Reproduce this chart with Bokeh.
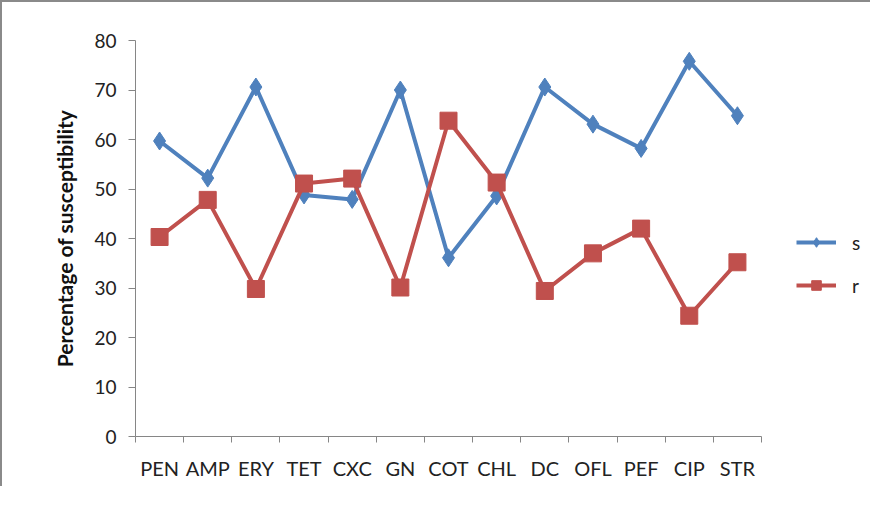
from bokeh.plotting import figure
from bokeh.models import FixedTicker, Range1d, Legend, LegendItem
from bokeh.embed import file_html
from bokeh.resources import INLINE

categories = ["PEN", "AMP", "ERY", "TET", "CXC", "GN", "COT", "CHL", "DC", "OFL", "PEF", "CIP", "STR"]
s_values = [59.7, 52.2, 70.6, 48.8, 47.9, 70.0, 36.1, 48.6, 70.6, 63.1, 58.2, 75.8, 64.8]
r_values = [40.3, 47.8, 29.8, 51.1, 52.1, 30.1, 63.8, 51.3, 29.4, 37.0, 42.0, 24.4, 35.2]
y_ticks = [0, 10, 20, 30, 40, 50, 60, 70, 80]

FONT = "Lato"
BLUE = "#4F81BD"
RED = "#C0504D"
GREY = "#868686"

xs = list(range(len(categories)))

p = figure(width=850, height=478, output_backend="svg", toolbar_location=None,
           x_range=Range1d(-0.5, len(categories) - 0.5), y_range=Range1d(0, 80),
           min_border_left=133, min_border_top=32, min_border_bottom=50,
           frame_width=626, frame_height=396)
p.styles = {"border-top": "2px solid #8a8a8a", "border-left": "2px solid #8a8a8a",
            "padding-top": "6px"}
p.outline_line_color = None
p.xgrid.visible = False
p.ygrid.visible = False

# y axis
p.yaxis.ticker = FixedTicker(ticks=y_ticks, minor_ticks=[])
p.yaxis.axis_line_color = GREY
p.yaxis.major_tick_line_color = GREY
p.yaxis.major_tick_out = 7
p.yaxis.major_tick_in = 0
p.yaxis.major_label_standoff = 12
p.yaxis.major_label_text_font = FONT
p.yaxis.major_label_text_font_size = "19px"
p.yaxis.major_label_text_color = "#222222"
p.yaxis.axis_label = "Percentage of susceptibility"
p.yaxis.axis_label_text_font = FONT
p.yaxis.axis_label_text_font_style = "bold"
p.yaxis.axis_label_text_font_size = "21px"
p.yaxis.axis_label_text_color = "#111111"
p.yaxis.axis_label_standoff = 14

# x axis: labels at centres, ticks at boundaries
bounds = [i - 0.5 for i in range(len(categories) + 1)]
p.xaxis.ticker = FixedTicker(ticks=xs, minor_ticks=bounds)
p.xaxis.major_label_overrides = {i: c for i, c in enumerate(categories)}
p.xaxis.axis_line_color = GREY
p.xaxis.major_tick_line_color = None
p.xaxis.major_tick_out = 0
p.xaxis.major_tick_in = 0
p.xaxis.minor_tick_line_color = GREY
p.xaxis.minor_tick_out = 6
p.xaxis.minor_tick_in = 0
p.xaxis.major_label_standoff = 13
p.xaxis.major_label_text_font = FONT
p.xaxis.major_label_text_font_size = "20px"
p.xaxis.major_label_text_color = "#222222"

ls = p.line(xs, s_values, line_color=BLUE, line_width=4)
ms = p.scatter(xs, s_values, marker="diamond", size=18, fill_color=BLUE, line_color=BLUE)
lr = p.line(xs, r_values, line_color=RED, line_width=4)
mr = p.scatter(xs, r_values, marker="square", size=17, fill_color=RED, line_color=RED)

legend = Legend(items=[LegendItem(label="s", renderers=[ls, ms]),
                       LegendItem(label="r", renderers=[lr, mr])],
                location=(35, 139), orientation="vertical",
                glyph_width=40, glyph_height=24, label_height=24, spacing=19,
                padding=0, margin=0, label_standoff=16,
                label_text_font=FONT, label_text_font_size="19px", label_text_color="#222222",
                border_line_color=None, background_fill_alpha=0)
p.add_layout(legend, "right")

open("out.html", "w").write(file_html(p, INLINE))
